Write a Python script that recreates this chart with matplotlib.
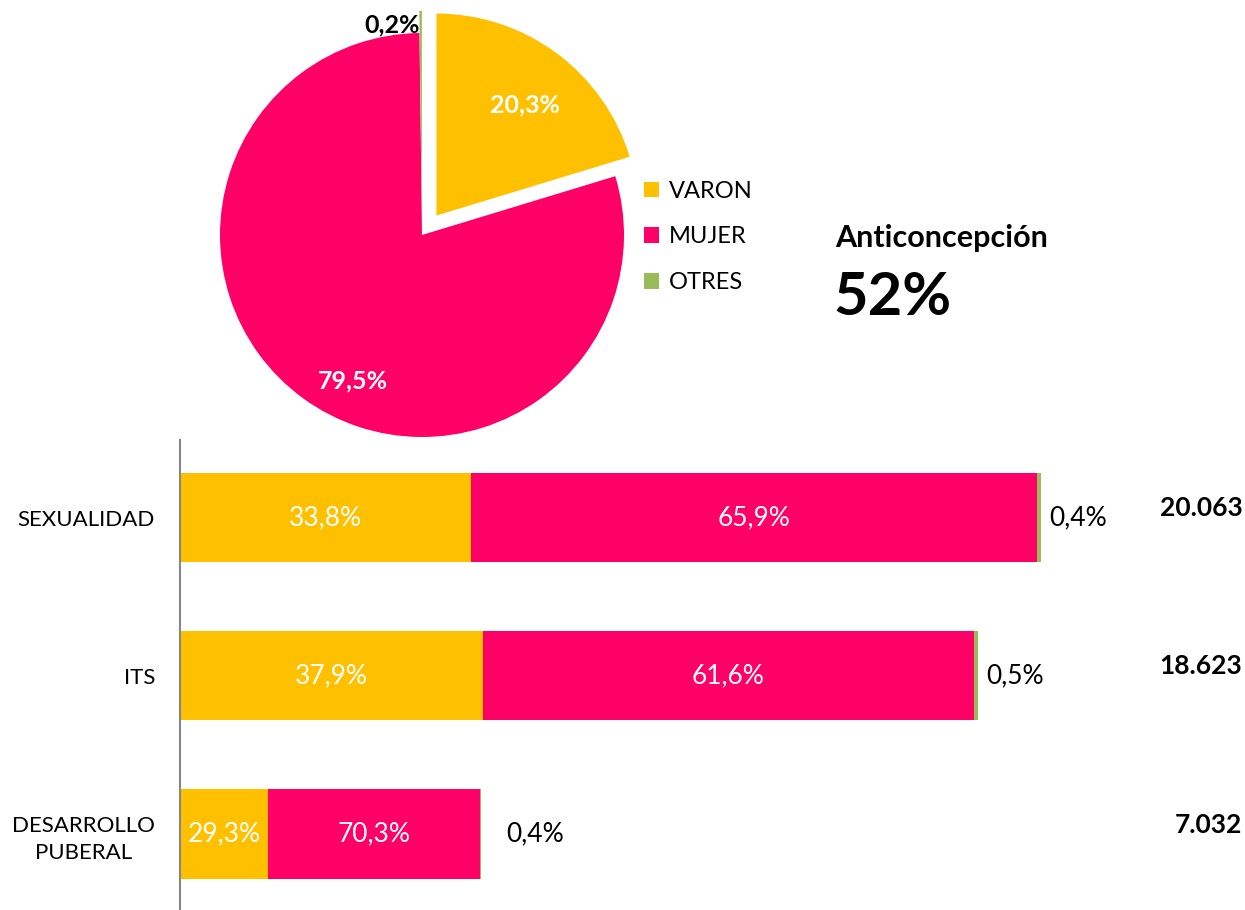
import numpy as np
import matplotlib
matplotlib.use("Agg")
import matplotlib.pyplot as plt
from matplotlib.patches import Patch
from matplotlib.transforms import blended_transform_factory, offset_copy

plt.rcParams['font.family'] = ['Lato', 'DejaVu Sans']

# pie data (share by gender)
pie_labels = ["VARON", "MUJER", "OTRES"]
pie_values = [20.3, 79.5, 0.2]

# bar data (share by gender per topic, and total count)
topics = ["SEXUALIDAD", "ITS", "DESARROLLO\nPUBERAL"]
varon = [33.8, 37.9, 29.3]
mujer = [65.9, 61.6, 70.3]
otres = [0.4, 0.5, 0.4]
totals = [20063, 18623, 7032]

highlight_title = "Anticoncepción"
highlight_value = "52%"

colors = ["#FFC000", "#FF0066", "#9BBB59"]


def pct(v):
    return f"{v:.1f}".replace(".", ",") + "%"


def thousands(v):
    return f"{v:,}".replace(",", ".")


def main():
    W, H = 1245, 910
    fig = plt.figure(figsize=(W / 100, H / 100), dpi=100)

    # ---- pie ----
    r_px = 202
    lim = 1.15
    side = 2 * lim * r_px
    cx, cy = 422, 235
    ax_pie = fig.add_axes([(cx - side / 2) / W, (H - cy - side / 2) / H, side / W, side / H])
    wedges, _ = ax_pie.pie(pie_values, colors=colors, startangle=90, counterclock=False,
                           explode=[0.12, 0, 0.11], radius=1.0,
                           wedgeprops=dict(linewidth=0))
    ax_pie.set_xlim(-lim, lim)
    ax_pie.set_ylim(-lim, lim)
    ax_pie.set_aspect("equal")
    ax_pie.axis("off")

    # percentage labels inside the big slices (Excel-like placement)
    dist = [0.70, 0.80]
    shift = [-2, 11]
    for w, v, d, s in zip(wedges[:2], pie_values[:2], dist, shift):
        ang = np.deg2rad((w.theta1 + w.theta2) / 2 + s)
        ox, oy = w.center
        ax_pie.text(ox + d * np.cos(ang), oy + d * np.sin(ang), pct(v),
                    color="white", fontsize=18, fontweight="bold",
                    ha="center", va="center")
    # tiny slice gets its label outside, left of the sliver
    ax_pie.text(-0.01, 1.04, pct(pie_values[2]),
                color="black", fontsize=18, fontweight="bold", ha="right", va="center")

    handles = [Patch(facecolor=c, edgecolor="none") for c in colors]
    fig.legend(handles, pie_labels, loc="center left",
               bbox_to_anchor=(644 / W, 1 - 237 / H), frameon=False,
               fontsize=17, handlelength=0.65, handleheight=0.65,
               handletextpad=0.4, labelspacing=1.05, borderpad=0, borderaxespad=0)

    fig.text(835 / W, 1 - 238 / H, highlight_title, fontsize=22, fontweight="bold",
             ha="left", va="center")
    fig.text(833 / W, 1 - 298 / H, highlight_value, fontsize=43, fontweight="bold",
             ha="left", va="center")

    # ---- stacked bars ----
    left_px, top_px = 180, 440
    ax = fig.add_axes([left_px / W, 0, (W - left_px) / W, (H - top_px) / H])
    tot = np.array(totals, dtype=float)
    seg_v = tot * np.array(varon) / 100
    seg_m = tot * np.array(mujer) / 100
    seg_o = tot * np.array(otres) / 100
    y = np.arange(len(topics))
    bh = 0.565

    ax.barh(y, seg_v, height=bh, color=colors[0], linewidth=0)
    ax.barh(y, seg_m, left=seg_v, height=bh, color=colors[1], linewidth=0)
    ax.barh(y, seg_o, left=seg_v + seg_m, height=bh, color=colors[2], linewidth=0)

    ax.set_xlim(0, tot.max() * (W - left_px) / 860)
    ax.set_ylim(2.48, -0.49)

    for i in range(len(topics)):
        ax.text(seg_v[i] / 2, y[i], pct(varon[i]), color="white", fontsize=19,
                ha="center", va="center")
        ax.text(seg_v[i] + seg_m[i] / 2, y[i], pct(mujer[i]), color="white", fontsize=19,
                ha="center", va="center")

    pads = [8, 8, 25]
    for i in range(len(topics)):
        tr = offset_copy(ax.transData, fig=fig, x=pads[i], y=0, units="dots")
        ax.text(seg_v[i] + seg_m[i] + seg_o[i], y[i], pct(otres[i]), transform=tr,
                fontsize=19, ha="left", va="center")

    bt = blended_transform_factory(ax.transAxes, ax.transData)
    for i in range(len(topics)):
        ax.text(0.9975, y[i] - 0.06, thousands(totals[i]), transform=bt,
                fontsize=19, fontweight="bold", ha="right", va="center")

    ax.set_yticks(y)
    ax.set_yticklabels(topics, fontsize=16, linespacing=1.45, multialignment="center")
    ax.tick_params(axis="y", length=0, pad=18)
    ax.set_xticks([])
    for s in ["top", "right", "bottom"]:
        ax.spines[s].set_visible(False)
    ax.spines["left"].set_color("#868686")
    ax.spines["left"].set_linewidth(1.5)

    fig.savefig("out.png", dpi=100)


if __name__ == "__main__":
    main()
